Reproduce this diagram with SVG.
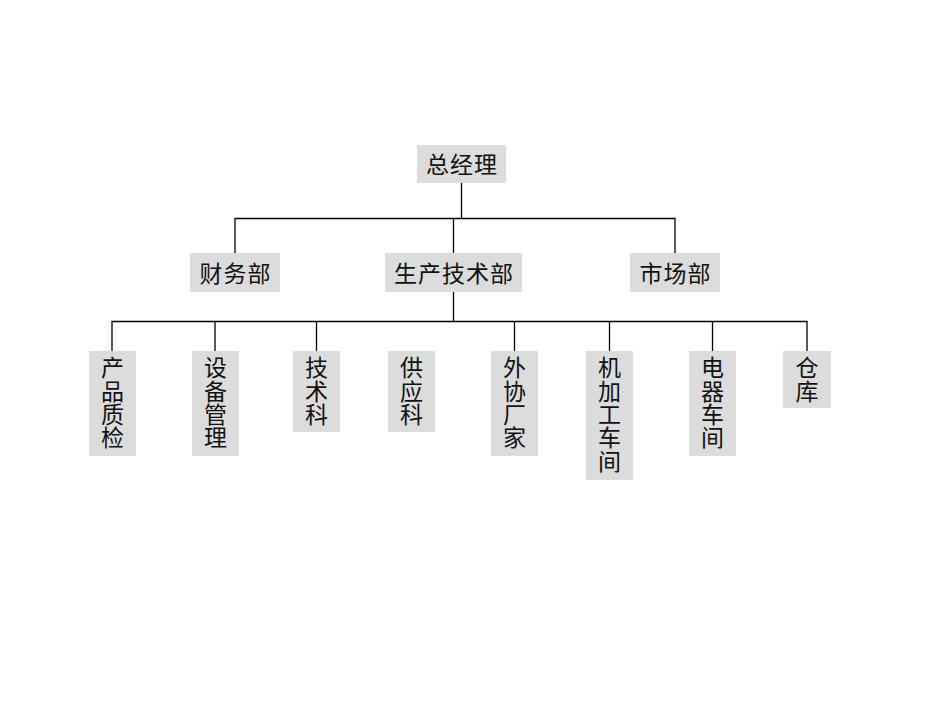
<svg xmlns="http://www.w3.org/2000/svg" width="950" height="713" viewBox="0 0 950 713">
<style>
.box{fill:#dcdcdc}
.t{font-family:"Noto Sans CJK SC","Noto Sans CJK JP",sans-serif;font-size:23px;fill:#111;text-anchor:middle;letter-spacing:1px}
.v{font-family:"Noto Sans CJK SC","Noto Sans CJK JP",sans-serif;font-size:23px;fill:#111;writing-mode:vertical-rl;text-anchor:start;letter-spacing:0.4px}
.c{stroke:#000;stroke-width:1.3;fill:none}
</style>
<rect width="950" height="713" fill="#fff"/>
<g id="connectors">
<path class="c" d="M461.5 183V218.5M235 253V218.5H675V253M453.5 218.5V253"/>
<path class="c" d="M453.5 292V321.5M112 351V321.5H807V351M215 321.5V351M316.5 321.5V351M514.5 321.5V351M609.5 321.5V351M712.5 321.5V351"/>
</g>
<g id="n-zjl"><rect class="box" x="417" y="145" width="89" height="38"/><text class="t" x="462" y="173">总经理</text></g>
<g id="n-cwb"><rect class="box" x="190" y="253" width="90" height="39"/><text class="t" x="235.5" y="282">财务部</text></g>
<g id="n-scjsb"><rect class="box" x="385" y="253" width="137" height="39"/><text class="t" x="454" y="282">生产技术部</text></g>
<g id="n-scb"><rect class="box" x="630" y="253" width="90" height="39"/><text class="t" x="675.5" y="282">市场部</text></g>
<g id="n-cpzj"><rect class="box" x="89" y="351" width="47" height="105"/><text class="v" x="112.5" y="356">产品质检</text></g>
<g id="n-sbgl"><rect class="box" x="192" y="351" width="47" height="105"/><text class="v" x="215.5" y="356">设备管理</text></g>
<g id="n-jsk"><rect class="box" x="293" y="351" width="47" height="81"/><text class="v" x="316.5" y="356">技术科</text></g>
<g id="n-gyk"><rect class="box" x="388" y="351" width="47" height="81"/><text class="v" x="411.5" y="356">供应科</text></g>
<g id="n-wxcj"><rect class="box" x="491" y="351" width="47" height="105"/><text class="v" x="514.5" y="356">外协厂家</text></g>
<g id="n-jjgcj"><rect class="box" x="586" y="351" width="47" height="129"/><text class="v" x="609.5" y="356">机加工车间</text></g>
<g id="n-dqcj"><rect class="box" x="689" y="351" width="47" height="105"/><text class="v" x="712.5" y="356">电器车间</text></g>
<g id="n-ck"><rect class="box" x="783" y="351" width="48" height="57"/><text class="v" x="807" y="356">仓库</text></g>
</svg>
